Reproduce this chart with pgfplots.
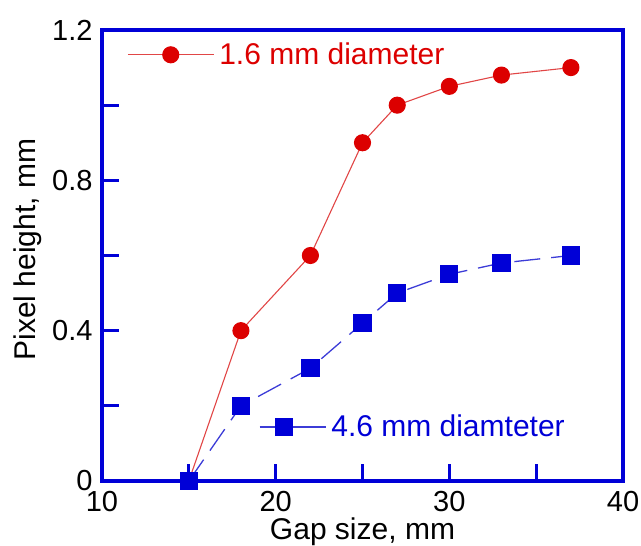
\documentclass[border=0pt]{standalone}
\usepackage{fontspec}
\setmainfont{Liberation Sans}
\usepackage{pgfplots}
\pgfplotsset{compat=1.18}
\definecolor{myblue}{RGB}{0,0,215}
\definecolor{myred}{RGB}{220,0,0}
\definecolor{lred}{RGB}{225,70,70}
\definecolor{lblue}{RGB}{60,60,215}

\pgfplotstableread{
x y
15 0
18 0.40
22 0.60
25 0.90
27 1.00
30 1.05
33 1.08
37 1.10
}\redtab
\pgfplotstableread{
x y
15 0
18 0.20
22 0.30
25 0.42
27 0.50
30 0.55
33 0.58
37 0.60
}\bluetab

\begin{document}
\begin{tikzpicture}
\pgfplotsset{every axis/.append style={width=521pt,height=451pt,scale only axis,
  xmin=10,xmax=40,ymin=0,ymax=1.2}}
\begin{axis}[
  axis line style={myblue,line width=4pt},
  xtick={10,20,30,40},
  minor xtick={15,25,35},
  ytick={0,0.4,0.8,1.2},
  minor ytick={0.2,0.6,1.0},
  xtick pos=bottom, ytick pos=left, tick align=inside,
  major tick length=17pt, minor tick length=17pt,
  every tick/.style={myblue,line width=3pt},
  /pgf/number format/assume math mode=true,
  xticklabel={\mbox{\fontsize{29}{33}\selectfont\pgfmathprintnumber[assume math mode=true]{\tick}}},
  yticklabel={\mbox{\fontsize{29}{33}\selectfont\pgfmathprintnumber[assume math mode=true]{\tick}}},
  xticklabel style={text=black, yshift=-7pt},
  yticklabel style={text=black, xshift=-6pt},
  xlabel={Gap size, mm}, ylabel={Pixel height, mm},
  label style={font=\fontsize{30}{34}\selectfont},
  xlabel style={yshift=1pt},
  ylabel style={yshift=4pt, xshift=6pt},
  legend style={at={(0.048,0.945)}, anchor=west, draw=none, fill=none,
    inner sep=0pt, font=\fontsize{30}{34}\selectfont, text=myred,
    nodes={inner sep=5pt}},
  legend image code/.code={\draw[mark repeat=2,mark phase=2,#1] plot coordinates {(0pt,0pt) (43pt,0pt) (86pt,0pt)};},
]
\addplot[lred, line width=1.1pt, mark=*, mark size=8pt,
  mark options={fill=myred, draw=myred, solid}] table[x=x,y=y] {\redtab};
\addlegendentry{1.6 mm diameter}
\path (rel axis cs:0,0) coordinate (sw) (rel axis cs:1,1) coordinate (ne);
\end{axis}
\begin{axis}[
  axis lines=none, clip=false,
  legend style={at={(0.301,0.12)}, anchor=west, draw=none, fill=none,
    inner sep=0pt, font=\fontsize{30}{34}\selectfont, text=myblue,
    nodes={inner sep=5pt}},
  legend image code/.code={\draw[mark repeat=2,mark phase=2,#1,solid] plot coordinates {(0pt,0pt) (24pt,0pt) (66pt,0pt)};},
]
\addplot[lblue, line width=1.3pt, dash pattern=on 26pt off 11pt, mark=square*, mark size=8.5pt,
  mark options={fill=myblue, draw=myblue, solid}] table[x=x,y=y] {\bluetab};
\addlegendentry{4.6 mm diamteter}
\end{axis}
\pgfresetboundingbox
\path ([xshift=-102pt,yshift=-64pt]sw) rectangle ([xshift=18pt,yshift=30pt]ne);
\end{tikzpicture}
\end{document}
